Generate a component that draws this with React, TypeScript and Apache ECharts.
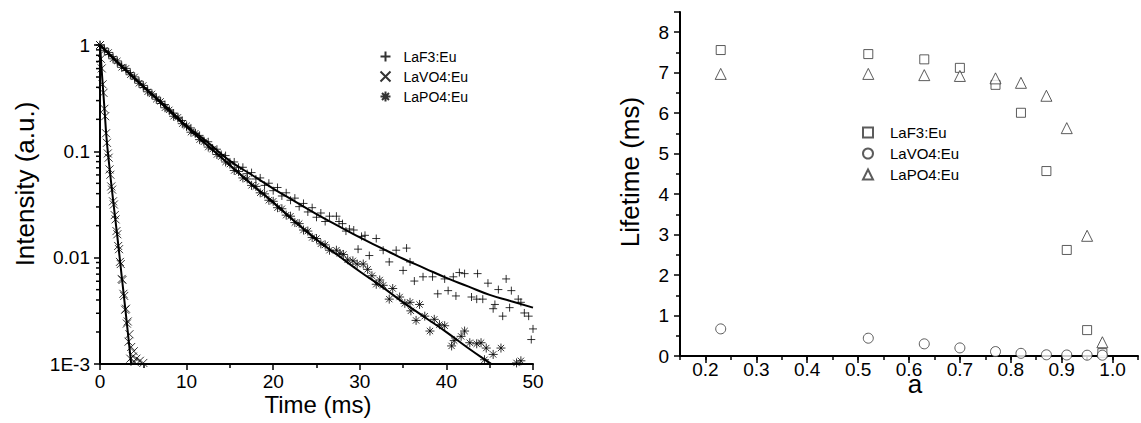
import React, { useEffect, useRef } from "react";
import * as echarts from "echarts";

// ---------- Left panel: decay curves (time in ms, log10 of intensity) ----------
const timeTicks = [0, 10, 20, 30, 40, 50];
const logMinorTicks = [
  0.002, 0.003, 0.004, 0.005, 0.006, 0.007, 0.008, 0.009,
  0.02, 0.03, 0.04, 0.05, 0.06, 0.07, 0.08, 0.09,
  0.2, 0.3, 0.4, 0.5, 0.6, 0.7, 0.8, 0.9,
];

// measured points [time ms, log10(intensity)]
const laF3Points: [number, number][] = [
  [0, 0.0], [0.5, -0.03], [1, -0.09], [1.5, -0.11], [2, -0.17], [2.5, -0.19], [3, -0.24], [3.5, -0.26],
  [4, -0.32], [4.5, -0.34], [5, -0.4], [5.5, -0.42], [6, -0.47], [6.5, -0.49], [7, -0.55], [7.5, -0.56],
  [8, -0.62], [8.5, -0.64], [9, -0.69], [9.5, -0.71], [10, -0.77], [10.5, -0.78], [11, -0.83], [11.5, -0.85],
  [12, -0.9], [12.5, -0.91], [13, -0.97], [13.5, -0.98], [14, -1.03], [14.5, -1.04], [15, -1.1], [15.5, -1.1],
  [16, -1.15], [16.5, -1.15], [17, -1.21], [17.5, -1.2], [18, -1.26], [18.5, -1.25], [19, -1.32], [19.5, -1.3],
  [20, -1.37], [20.5, -1.34], [21, -1.42], [21.5, -1.39], [22, -1.46], [22.5, -1.44], [23, -1.52], [23.5, -1.49],
  [24, -1.57], [24.5, -1.53], [25, -1.62], [25.5, -1.58], [26, -1.66], [26.5, -1.61],
  [27.3, -1.61], [27.6, -1.66], [28.0, -1.68], [28.4, -1.75], [28.8, -1.73], [29.3, -1.74], [29.8, -1.92],
  [30.2, -1.8], [30.6, -1.79], [31.1, -1.98], [31.9, -1.82], [32.7, -1.93], [33.4, -2.04], [34.2, -1.93],
  [35.0, -2.12], [35.4, -1.91], [35.8, -2.04], [36.3, -2.22], [37.3, -2.18], [38.4, -2.18], [39.0, -2.34],
  [39.8, -2.2], [40.2, -2.31], [40.8, -2.18], [41.1, -2.36], [41.5, -2.14], [42.1, -2.15], [42.9, -2.37],
  [43.5, -2.39], [43.6, -2.15], [44.2, -2.39], [44.8, -2.24], [45.4, -2.48], [45.6, -2.44], [46.0, -2.3],
  [46.5, -2.55], [46.9, -2.2], [47.3, -2.47], [47.5, -2.31], [48.3, -2.39], [48.6, -2.42], [49.0, -2.52],
  [49.5, -2.55], [49.8, -2.77], [50.0, -2.67],
];

const laVO4Points: [number, number][] = [
  [0.0, 0.0], [0.1, -0.13], [0.2, -0.22], [0.3, -0.37], [0.4, -0.45], [0.5, -0.6], [0.6, -0.67], [0.7, -0.83],
  [0.8, -0.92], [0.9, -1.02], [1.0, -1.06], [1.1, -1.17], [1.2, -1.22], [1.3, -1.33], [1.4, -1.36], [1.5, -1.47],
  [1.6, -1.5], [1.7, -1.6], [1.8, -1.64], [1.9, -1.75], [2.0, -1.78], [2.1, -1.89], [2.2, -1.92], [2.3, -2.04],
  [2.4, -2.06], [2.5, -2.2], [2.6, -2.21], [2.7, -2.34], [2.8, -2.36], [2.9, -2.49], [3.0, -2.48], [3.1, -2.62],
  [3.2, -2.6], [3.3, -2.79], [3.4, -2.72], [3.5, -2.95], [3.6, -2.84], [3.7, -3.1], [3.8, -2.93], [3.9, -2.88],
  [4.0, -2.98], [4.2, -2.95], [4.4, -3.05], [4.6, -2.97], [4.8, -3.1], [5.0, -2.99],
];

const laPO4Points: [number, number][] = [
  [0, 0.0], [0.5, -0.05], [1, -0.07], [1.5, -0.13], [2, -0.15], [2.5, -0.21], [3, -0.22], [3.5, -0.28],
  [4, -0.3], [4.5, -0.36], [5, -0.38], [5.5, -0.44], [6, -0.46], [6.5, -0.51], [7, -0.53], [7.5, -0.59],
  [8, -0.61], [8.5, -0.67], [9, -0.68], [9.5, -0.74], [10, -0.76], [10.5, -0.82], [11, -0.83], [11.5, -0.89],
  [12, -0.91], [12.5, -0.96], [13, -0.98], [13.5, -1.03], [14, -1.05], [14.5, -1.1], [15, -1.12], [15.5, -1.18],
  [16, -1.19], [16.5, -1.25], [17, -1.26], [17.5, -1.32], [18, -1.33], [18.5, -1.39], [19, -1.4], [19.5, -1.46],
  [20, -1.47], [20.5, -1.53], [21, -1.54], [21.5, -1.6], [22, -1.61], [22.5, -1.67], [23, -1.68], [23.5, -1.74],
  [24, -1.75], [24.5, -1.81], [25, -1.82], [25.5, -1.87], [26, -1.88], [26.5, -1.93],
  [27.3, -1.93], [27.7, -1.96], [28.1, -1.97], [28.6, -2.02], [29.2, -2.03], [29.7, -2.06], [30.4, -2.06],
  [30.9, -2.11], [31.4, -2.17], [31.9, -2.25], [32.3, -2.21], [32.7, -2.26], [33.4, -2.39], [33.8, -2.29],
  [34.6, -2.37], [35.2, -2.43], [35.8, -2.42], [35.9, -2.5], [36.5, -2.59], [36.9, -2.44], [37.5, -2.55],
  [38.1, -2.69], [38.6, -2.58], [39.2, -2.63], [39.8, -2.64], [40.6, -2.83], [40.9, -2.78], [41.7, -2.74],
  [42.1, -2.69], [42.7, -2.8], [43.5, -2.81], [44.0, -2.8], [44.4, -2.96], [44.6, -2.85], [45.4, -2.91],
  [46.3, -2.85], [48.1, -2.99], [48.6, -2.97],
];

// fitted curves [time ms, log10(intensity)]
const laF3Fit: [number, number][] = [
  [0, 0], [2.5, -0.2], [5, -0.39], [7.5, -0.57], [10, -0.76], [12.5, -0.92], [15, -1.09], [17.5, -1.22],
  [20, -1.35], [22.5, -1.47], [25, -1.59], [27.5, -1.7], [30, -1.81], [32.5, -1.91], [35, -2.01],
  [37.5, -2.1], [40, -2.19], [42.5, -2.27], [45, -2.35], [47.5, -2.41], [50, -2.47],
];
const laVO4Fit: [number, number][] = [
  [0, 0], [0.25, -0.3], [0.5, -0.58], [0.75, -0.87], [1.0, -1.08], [1.5, -1.45], [2.0, -1.8],
  [2.5, -2.17], [3.0, -2.54], [3.5, -2.92], [4.0, -3.3],
];
const laPO4Fit: [number, number][] = [
  [0, 0], [2.5, -0.2], [5, -0.39], [7.5, -0.58], [10, -0.77], [12.5, -0.95], [15, -1.13], [17.5, -1.31],
  [20, -1.48], [22.5, -1.66], [25, -1.83], [27.5, -1.98], [30, -2.13], [32.5, -2.27], [35, -2.42],
  [37.5, -2.56], [40, -2.7], [42.5, -2.85], [45, -2.99], [47.5, -3.13],
];

// ---------- Right panel: lifetime vs a ----------
const aValues = [0.23, 0.52, 0.63, 0.7, 0.77, 0.82, 0.87, 0.91, 0.95, 0.98];
const laF3Lifetime = [7.56, 7.46, 7.33, 7.12, 6.7, 6.01, 4.57, 2.62, 0.64, 0.07];
const laVO4Lifetime = [0.67, 0.44, 0.3, 0.2, 0.11, 0.066, 0.03, 0.025, 0.02, 0.02];
const laPO4Lifetime = [6.97, 6.97, 6.94, 6.92, 6.86, 6.75, 6.43, 5.63, 2.97, 0.34];
const aMajorTicks = [0.2, 0.3, 0.4, 0.5, 0.6, 0.7, 0.8, 0.9, 1.0];

const names = ["LaF3:Eu", "LaVO4:Eu", "LaPO4:Eu"];

const FONT = "'Liberation Sans', Arial, Helvetica, sans-serif";
const PLUS = "path://M5 0 L5 10 M0 5 L10 5";
const CROSS = "path://M0 0 L10 10 M10 0 L0 10";
const STAR = "path://M5 0 L5 10 M0 5 L10 5 M1.5 1.5 L8.5 8.5 M8.5 1.5 L1.5 8.5";

const toLin = (pts: [number, number][]) => pts.map(([t, l]) => [t, Math.pow(10, l)]);

export default function App() {
  const ref = useRef<HTMLDivElement>(null);
  useEffect(() => {
    if (!ref.current) return;
    const chart = echarts.init(ref.current, undefined, { renderer: "svg" });
    const axisLine = { show: true, lineStyle: { color: "#000", width: 2 } };
    const markerStyle = { color: "none", borderColor: "#000", borderWidth: 1 };
    const hollow = { color: "#fff", borderColor: "#333", borderWidth: 1 };
    const fitLine = (name: string, pts: [number, number][]) => ({
      type: "line",
      name: name + "-fit",
      xAxisIndex: 0,
      yAxisIndex: 0,
      data: toLin(pts),
      smooth: true,
      showSymbol: false,
      symbol: "none",
      lineStyle: { color: "#000", width: 2 },
      z: 5,
      silent: true,
    });
    const centered = { align: "center", verticalAlign: "middle", textAlign: "center", textVerticalAlign: "middle", fill: "#000" };
    chart.setOption({
      animation: false,
      backgroundColor: "#fff",
      textStyle: { fontFamily: FONT },
      grid: [
        { left: 100, top: 45, width: 433, height: 319 },
        { left: 680, top: 12, width: 470, height: 344 },
      ],
      xAxis: [
        {
          gridIndex: 0, type: "value", min: 0, max: 50, interval: 10,
          axisLine, splitLine: { show: false },
          axisTick: { show: true, length: 6, lineStyle: { color: "#000", width: 1.5 } },
          minorTick: { show: true, splitNumber: 2, length: 4, lineStyle: { color: "#000", width: 1.5 } },
          axisLabel: { fontSize: 19, color: "#000", margin: 8, fontFamily: FONT,
            formatter: (v: number) => (timeTicks.includes(v) ? String(v) : "") },
        },
        {
          gridIndex: 1, type: "value", min: 0.15, max: 1.05, interval: 0.05,
          axisLine, splitLine: { show: false },
          axisTick: { show: true, length: 4, lineStyle: { color: "#000", width: 1.5 } },
          axisLabel: {
            fontSize: 19, color: "#000", margin: 4, fontFamily: FONT,
            formatter: (v: number) => {
              const m = aMajorTicks.find((t) => Math.abs(t - v) < 1e-6);
              return m === undefined ? "" : m.toFixed(1);
            },
          },
        },
        {
          gridIndex: 1, type: "value", min: 0.15, max: 1.05, position: "bottom",
          axisLine: { show: false }, splitLine: { show: false },
          axisTick: { show: true, length: 7, customValues: aMajorTicks, lineStyle: { color: "#000", width: 1.5 } },
          axisLabel: { show: false },
        },
      ],
      yAxis: [
        {
          gridIndex: 0, type: "log", logBase: 10, min: 0.001, max: 1,
          axisLine, splitLine: { show: false },
          axisTick: { show: true, length: 6, lineStyle: { color: "#000", width: 1.5 } },
          axisLabel: {
            fontSize: 19, color: "#000", margin: 10, fontFamily: FONT,
            formatter: (v: number) => (v < 0.0015 ? "1E-3" : String(Number(v.toPrecision(3)))),
          },
        },
        {
          gridIndex: 1, type: "value", min: 0, max: 8.5, interval: 1,
          axisLine, splitLine: { show: false },
          axisTick: { show: true, length: 6, lineStyle: { color: "#000", width: 1.5 } },
          minorTick: { show: true, splitNumber: 2, length: 4, lineStyle: { color: "#000", width: 1.5 } },
          axisLabel: { fontSize: 19, color: "#000", margin: 11, fontFamily: FONT, showMaxLabel: false,
            formatter: (v: number) => (Number.isInteger(v) ? String(v) : "") },
        },
      ],
      legend: [
        {
          data: names, orient: "vertical", left: 373, top: 44, itemWidth: 10, itemHeight: 10, itemGap: 5,
          selectedMode: false,
          textStyle: { fontSize: 14, color: "#000", fontFamily: FONT, lineHeight: 10, padding: [0, 0, 0, 8] },
        },
        {
          data: names.map((n) => "r-" + n), orient: "vertical", left: 857, top: 120, itemWidth: 10, itemHeight: 10,
          itemGap: 6, selectedMode: false,
          formatter: (n: string) => n.replace(/^r-/, ""),
          textStyle: { fontSize: 15, color: "#000", fontFamily: FONT, lineHeight: 10, padding: [0, 0, 0, 12] },
        },
      ],
      graphic: [
        { type: "text", x: 25, y: 184, rotation: Math.PI / 2,
          style: { text: "Intensity (a.u.)", font: `26px ${FONT}`, ...centered } },
        { type: "text", x: 318, y: 404,
          style: { text: "Time (ms)", font: `24px ${FONT}`, ...centered } },
        { type: "text", x: 630, y: 172, rotation: Math.PI / 2,
          style: { text: "Lifetime (ms)", font: `26px ${FONT}`, ...centered } },
        { type: "text", x: 915, y: 384,
          style: { text: "a", font: `26px ${FONT}`, ...centered } },
      ],
      series: [
        { type: "scatter", name: names[0], xAxisIndex: 0, yAxisIndex: 0, data: toLin(laF3Points),
          symbol: PLUS, symbolSize: 8, itemStyle: markerStyle, z: 3 },
        { type: "scatter", name: names[1], xAxisIndex: 0, yAxisIndex: 0, data: toLin(laVO4Points),
          symbol: CROSS, symbolSize: 8, itemStyle: markerStyle, z: 3 },
        { type: "scatter", name: names[2], xAxisIndex: 0, yAxisIndex: 0, data: toLin(laPO4Points),
          symbol: STAR, symbolSize: 9, itemStyle: markerStyle, z: 3 },
        fitLine(names[0], laF3Fit),
        fitLine(names[1], laVO4Fit),
        fitLine(names[2], laPO4Fit),
        {
          type: "custom", name: "log-minor-ticks", xAxisIndex: 0, yAxisIndex: 0, silent: true, clip: false,
          data: logMinorTicks.map((v) => [0, v]),
          renderItem: (_p: any, api: any) => {
            const pt = api.coord([api.value(0), api.value(1)]);
            return { type: "line", shape: { x1: pt[0] - 4, y1: pt[1], x2: pt[0], y2: pt[1] },
              style: { stroke: "#000", lineWidth: 1.5 } };
          },
        },
        { type: "scatter", name: "r-" + names[0], xAxisIndex: 1, yAxisIndex: 1,
          data: aValues.map((a, i) => [a, laF3Lifetime[i]]), symbol: "rect", symbolSize: 9, itemStyle: hollow },
        { type: "scatter", name: "r-" + names[1], xAxisIndex: 1, yAxisIndex: 1,
          data: aValues.map((a, i) => [a, laVO4Lifetime[i]]), symbol: "circle", symbolSize: 10, itemStyle: hollow },
        { type: "scatter", name: "r-" + names[2], xAxisIndex: 1, yAxisIndex: 1,
          data: aValues.map((a, i) => [a, laPO4Lifetime[i]]), symbol: "triangle", symbolSize: 11, itemStyle: hollow },
      ],
    });
    return () => chart.dispose();
  }, []);
  return (
    <div
      ref={ref}
      style={{ position: "fixed", left: 0, top: 0, width: 1141, height: 423, background: "#fff" }}
    />
  );
}
